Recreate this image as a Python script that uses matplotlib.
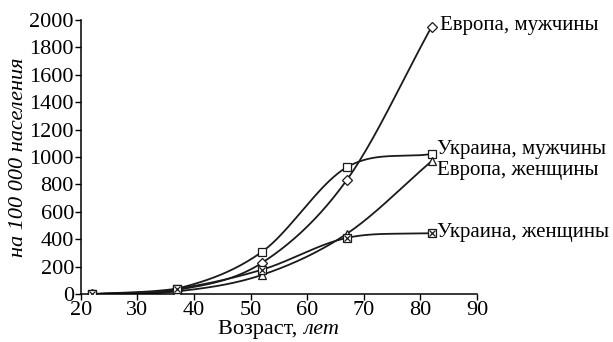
import matplotlib
matplotlib.use('Agg')
import matplotlib.pyplot as plt
import numpy as np

plt.rcParams['font.family'] = ['Liberation Serif', 'DejaVu Serif']

age = [22, 37, 52, 67, 82]
europe_men = [0, 30, 228, 832, 1950]
ukraine_men = [0, 40, 308, 925, 1022]
europe_women = [0, 20, 140, 440, 970]
ukraine_women = [0, 40, 178, 410, 445]

series_names = ['Европа, мужчины', 'Украина, мужчины', 'Европа, женщины', 'Украина, женщины']


def smooth(x, y, n=40):  # Catmull-Rom curve through points, like Excel smoothed lines
    x = np.asarray(x, float)
    y = np.asarray(y, float)
    px = np.concatenate([[2 * x[0] - x[1]], x, [2 * x[-1] - x[-2]]])
    py = np.concatenate([[2 * y[0] - y[1]], y, [2 * y[-1] - y[-2]]])
    xs, ys = [], []
    t = np.linspace(0, 1, n)
    for i in range(1, len(px) - 2):
        for p, out in ((px, xs), (py, ys)):
            p0, p1, p2, p3 = p[i - 1], p[i], p[i + 1], p[i + 2]
            out.extend(0.5 * (2 * p1 + (-p0 + p2) * t + (2 * p0 - 5 * p1 + 4 * p2 - p3) * t ** 2
                              + (-p0 + 3 * p1 - 3 * p2 + p3) * t ** 3))
    return xs, ys


fig = plt.figure(figsize=(6.13, 3.42), dpi=100)
ax = fig.add_axes([0.132, 0.14, 0.646, 0.802])

ms = 6
for y, mk in [(europe_men, 'D'), (ukraine_men, 's'), (europe_women, '^'), (ukraine_women, 's')]:
    sx, sy = smooth(age, y)
    ax.plot(sx, sy, color='#1a1a1a', lw=1.3, zorder=2)
    size = ms - 1 if mk == 'D' else ms
    ax.plot(age, y, ls='none', marker=mk, ms=size, mfc='white', mec='#1a1a1a', mew=0.9, zorder=3)
ax.plot(age, ukraine_women, ls='none', marker='x', ms=4, mec='#1a1a1a', mew=0.9, zorder=4)

fs = 16
ls = 15
ax.text(83.4, 1960, series_names[0], fontsize=ls, va='center', ha='left')
ax.text(83.0, 1055, series_names[1], fontsize=ls, va='center', ha='left')
ax.text(83.0, 905, series_names[2], fontsize=ls, va='center', ha='left')
ax.text(83.0, 448, series_names[3], fontsize=ls, va='center', ha='left')

ax.set_xlim(20, 90)
ax.set_ylim(0, 2000)
ax.set_xticks(range(20, 91, 10))
ax.set_yticks(range(0, 2001, 200))
ax.tick_params(labelsize=fs, length=4, width=1, pad=1)
for s in ['top', 'right']:
    ax.spines[s].set_visible(False)
for s in ['left', 'bottom']:
    ax.spines[s].set_linewidth(1.1)
ax.set_ylabel('на 100 000 населения', fontsize=fs, style='italic', labelpad=1)
fig.text(0.494, 0.008, 'Возраст, ', fontsize=fs, ha='right', va='bottom')
fig.text(0.494, 0.008, 'лет', fontsize=fs, ha='left', va='bottom', style='italic')

plt.savefig('out.png', dpi=100)
